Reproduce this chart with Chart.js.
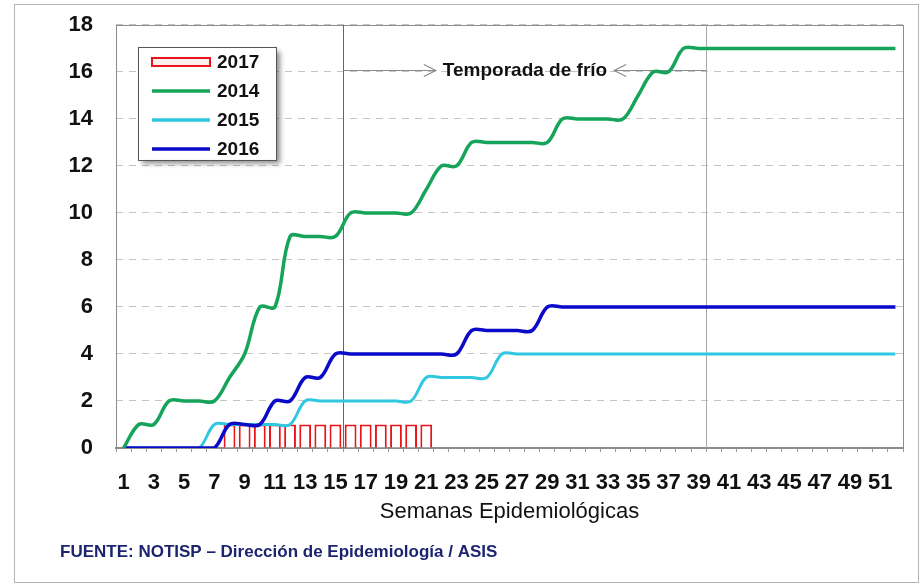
<!DOCTYPE html>
<html>
<head>
<meta charset="utf-8">
<script src="https://cdn.jsdelivr.net/npm/chart.js@4/dist/chart.umd.min.js"></script>
<style>
  body { margin: 0; background: #fff; }
  canvas { display: block; }
</style>
</head>
<body>
<canvas id="fluChart" width="922" height="587"></canvas>
<script>
// DATA
const weeks = [1, 2, 3, 4, 5, 6, 7, 8, 9, 10, 11, 12, 13, 14, 15, 16, 17, 18, 19, 20, 21, 22, 23, 24, 25, 26,
  27, 28, 29, 30, 31, 32, 33, 34, 35, 36, 37, 38, 39, 40, 41, 42, 43, 44, 45, 46, 47, 48, 49, 50, 51, 52];

const cases2014 = [0, 1, 1, 2, 2, 2, 2, 3, 4, 6, 6, 9, 9, 9, 9, 10, 10, 10, 10, 10, 11, 12, 12, 13, 13, 13,
  13, 13, 13, 14, 14, 14, 14, 14, 15, 16, 16, 17, 17, 17, 17, 17, 17, 17, 17, 17, 17, 17, 17, 17, 17, 17];

const cases2015 = [0, 0, 0, 0, 0, 0, 1, 1, 1, 1, 1, 1, 2, 2, 2, 2, 2, 2, 2, 2, 3, 3, 3, 3, 3, 4,
  4, 4, 4, 4, 4, 4, 4, 4, 4, 4, 4, 4, 4, 4, 4, 4, 4, 4, 4, 4, 4, 4, 4, 4, 4, 4];

const cases2016 = [0, 0, 0, 0, 0, 0, 0, 1, 1, 1, 2, 2, 3, 3, 4, 4, 4, 4, 4, 4, 4, 4, 4, 5, 5, 5,
  5, 5, 6, 6, 6, 6, 6, 6, 6, 6, 6, 6, 6, 6, 6, 6, 6, 6, 6, 6, 6, 6, 6, 6, 6, 6];

const cases2017 = [null, null, null, null, null, null, null, 1, 1, 1, 1, 1, 1, 1, 1, 1, 1, 1, 1, 1, 1, null,
  null, null, null, null, null, null, null, null, null, null, null, null, null, null, null, null, null, null,
  null, null, null, null, null, null, null, null, null, null, null, null];

const yTicks = [0, 2, 4, 6, 8, 10, 12, 14, 16, 18];

const seasonStart = 15;  // semana de inicio de la temporada de frío
const seasonEnd = 39;
const seasonLabel = "Temporada de frío";
const xTitle = "Semanas Epidemiológicas";
const source = "FUENTE: NOTISP – Dirección de Epidemiología / ASIS";

const FONT = "'Liberation Sans', Arial, sans-serif";

// line marking the end of a week (between two categories)
function weekEdge(scale, week) {
  const i = weeks.indexOf(week);
  return (scale.getPixelForValue(i) + scale.getPixelForValue(i + 1)) / 2;
}

// FRAME, SEASON LINES AND ARROWS
const backdrop = {
  id: "backdrop",
  beforeDatasetsDraw(chart) {
    const { ctx, chartArea: a, scales } = chart;
    ctx.save();
    ctx.strokeStyle = "#8c8c8c";
    ctx.lineWidth = 1;
    ctx.strokeRect(a.left + 0.5, a.top + 0.5, a.right - a.left, a.bottom - a.top);

    const x1 = Math.round(weekEdge(scales.x, seasonStart)) + 0.5;
    const x2 = Math.round(weekEdge(scales.x, seasonEnd)) + 0.5;
    ctx.strokeStyle = "#666";
    ctx.beginPath(); ctx.moveTo(x1, a.top); ctx.lineTo(x1, a.bottom); ctx.stroke();
    ctx.strokeStyle = "#a8a8a8";
    ctx.beginPath(); ctx.moveTo(x2, a.top); ctx.lineTo(x2, a.bottom); ctx.stroke();

    // label with arrows pointing at it
    const y = Math.round(scales.y.getPixelForValue(16.1)) + 0.5;
    const mid = (x1 + x2) / 2;
    ctx.font = "bold 19px " + FONT;
    const half = ctx.measureText(seasonLabel).width / 2;
    ctx.fillStyle = "#111";
    ctx.textAlign = "center";
    ctx.textBaseline = "middle";
    ctx.fillText(seasonLabel, mid, y);

    ctx.strokeStyle = "#8a8a8a";
    ctx.lineWidth = 1.2;
    const l = mid - half - 7, r = mid + half + 7;
    ctx.beginPath();
    ctx.moveTo(x1, y); ctx.lineTo(l, y);
    ctx.moveTo(l - 12, y - 6); ctx.lineTo(l, y); ctx.lineTo(l - 12, y + 6);
    ctx.moveTo(x2, y); ctx.lineTo(r, y);
    ctx.moveTo(r + 12, y - 6); ctx.lineTo(r, y); ctx.lineTo(r + 12, y + 6);
    ctx.stroke();
    ctx.restore();
  }
};

// LEGEND BOX, SOURCE AND OUTER BORDER
const extras = {
  id: "extras",
  afterDatasetsDraw(chart) {
    const { ctx, chartArea: a } = chart;
    const bx = a.left + 22, by = a.top + 22, bw = 138, bh = 113;
    ctx.save();
    ctx.shadowColor = "rgba(0,0,0,0.45)";
    ctx.shadowBlur = 5;
    ctx.shadowOffsetX = 4;
    ctx.shadowOffsetY = 4;
    ctx.fillStyle = "#fff";
    ctx.fillRect(bx, by, bw, bh);
    ctx.restore();

    ctx.save();
    ctx.strokeStyle = "#555";
    ctx.lineWidth = 1;
    ctx.strokeRect(bx + 0.5, by + 0.5, bw, bh);

    const order = [0, 1, 2, 3];
    ctx.font = "bold 19px " + FONT;
    ctx.textBaseline = "middle";
    ctx.textAlign = "left";
    order.forEach((k, n) => {
      const ds = chart.data.datasets[k];
      const y = by + 15 + n * 29;
      if (ds.type === "bar") {
        ctx.fillStyle = "#fff0f0";
        ctx.fillRect(bx + 14, y - 4, 58, 8);
        ctx.strokeStyle = ds.borderColor;
        ctx.lineWidth = 2;
        ctx.strokeRect(bx + 14, y - 4, 58, 8);
      } else {
        ctx.strokeStyle = ds.borderColor;
        ctx.lineWidth = 3.5;
        ctx.beginPath(); ctx.moveTo(bx + 14, y); ctx.lineTo(bx + 72, y); ctx.stroke();
      }
      ctx.fillStyle = "#111";
      ctx.fillText(ds.label, bx + 79, y + 1);
    });
    ctx.restore();
  },
  afterDraw(chart) {
    const { ctx } = chart;
    ctx.save();
    ctx.font = "bold 17px " + FONT;
    ctx.fillStyle = "#1c2470";
    ctx.textBaseline = "middle";
    ctx.fillText(source, 60, 552);
    ctx.strokeStyle = "#b5b5b5";
    ctx.lineWidth = 1;
    ctx.strokeRect(14.5, 4.5, 904, 578);
    ctx.restore();
  }
};

new Chart(document.getElementById("fluChart"), {
  type: "bar",
  data: {
    labels: weeks,
    datasets: [
      {
        type: "bar",
        label: "2017",
        data: cases2017,
        backgroundColor: "#ffffff",
        borderColor: "#e8141a",
        borderWidth: 2,
        barPercentage: 0.78,
        categoryPercentage: 1,
        order: 5
      },
      {
        type: "line",
        label: "2014",
        data: cases2014,
        borderColor: "#16a45a",
        borderWidth: 3.5,
        pointRadius: 0,
        tension: 0.35,
        fill: false,
        order: 1
      },
      {
        type: "line",
        label: "2015",
        data: cases2015,
        borderColor: "#2fc8e0",
        borderWidth: 3,
        pointRadius: 0,
        tension: 0.35,
        fill: false,
        order: 3
      },
      {
        type: "line",
        label: "2016",
        data: cases2016,
        borderColor: "#0a0ac8",
        borderWidth: 3.5,
        pointRadius: 0,
        tension: 0.35,
        fill: false,
        order: 2
      }
    ]
  },
  options: {
    responsive: false,
    animation: false,
    layout: { padding: { left: 20, right: 19, top: 16, bottom: 57 } },
    plugins: {
      legend: { display: false },
      tooltip: { enabled: false }
    },
    scales: {
      x: {
        afterFit(scale) { scale.height = 82; },
        grid: { drawOnChartArea: false, drawTicks: true, tickLength: 4, color: "#999" },
        border: { display: true, color: "#8c8c8c", width: 2 },
        ticks: {
          autoSkip: false,
          maxRotation: 0,
          padding: 18,
          color: "#111",
          font: { family: FONT, size: 22, weight: "bold" },
          callback: (v, i) => (i % 2 === 0 ? weeks[i] : "")
        },
        title: {
          display: true,
          text: xTitle,
          color: "#111",
          font: { family: FONT, size: 22 },
          padding: { top: 0, bottom: 5 }
        }
      },
      y: {
        min: 0,
        max: 18,
        afterFit(scale) { scale.width = 96; },
        afterBuildTicks(scale) { scale.ticks = yTicks.map(v => ({ value: v })); },
        grid: { drawTicks: false, color: "#c4c4c4" },
        border: { display: false, dash: [7, 6] },
        ticks: {
          padding: 23,
          color: "#111",
          font: { family: FONT, size: 22, weight: "bold", lineHeight: 0.18 }
        }
      }
    }
  },
  plugins: [backdrop, extras]
});
</script>
</body>
</html>
